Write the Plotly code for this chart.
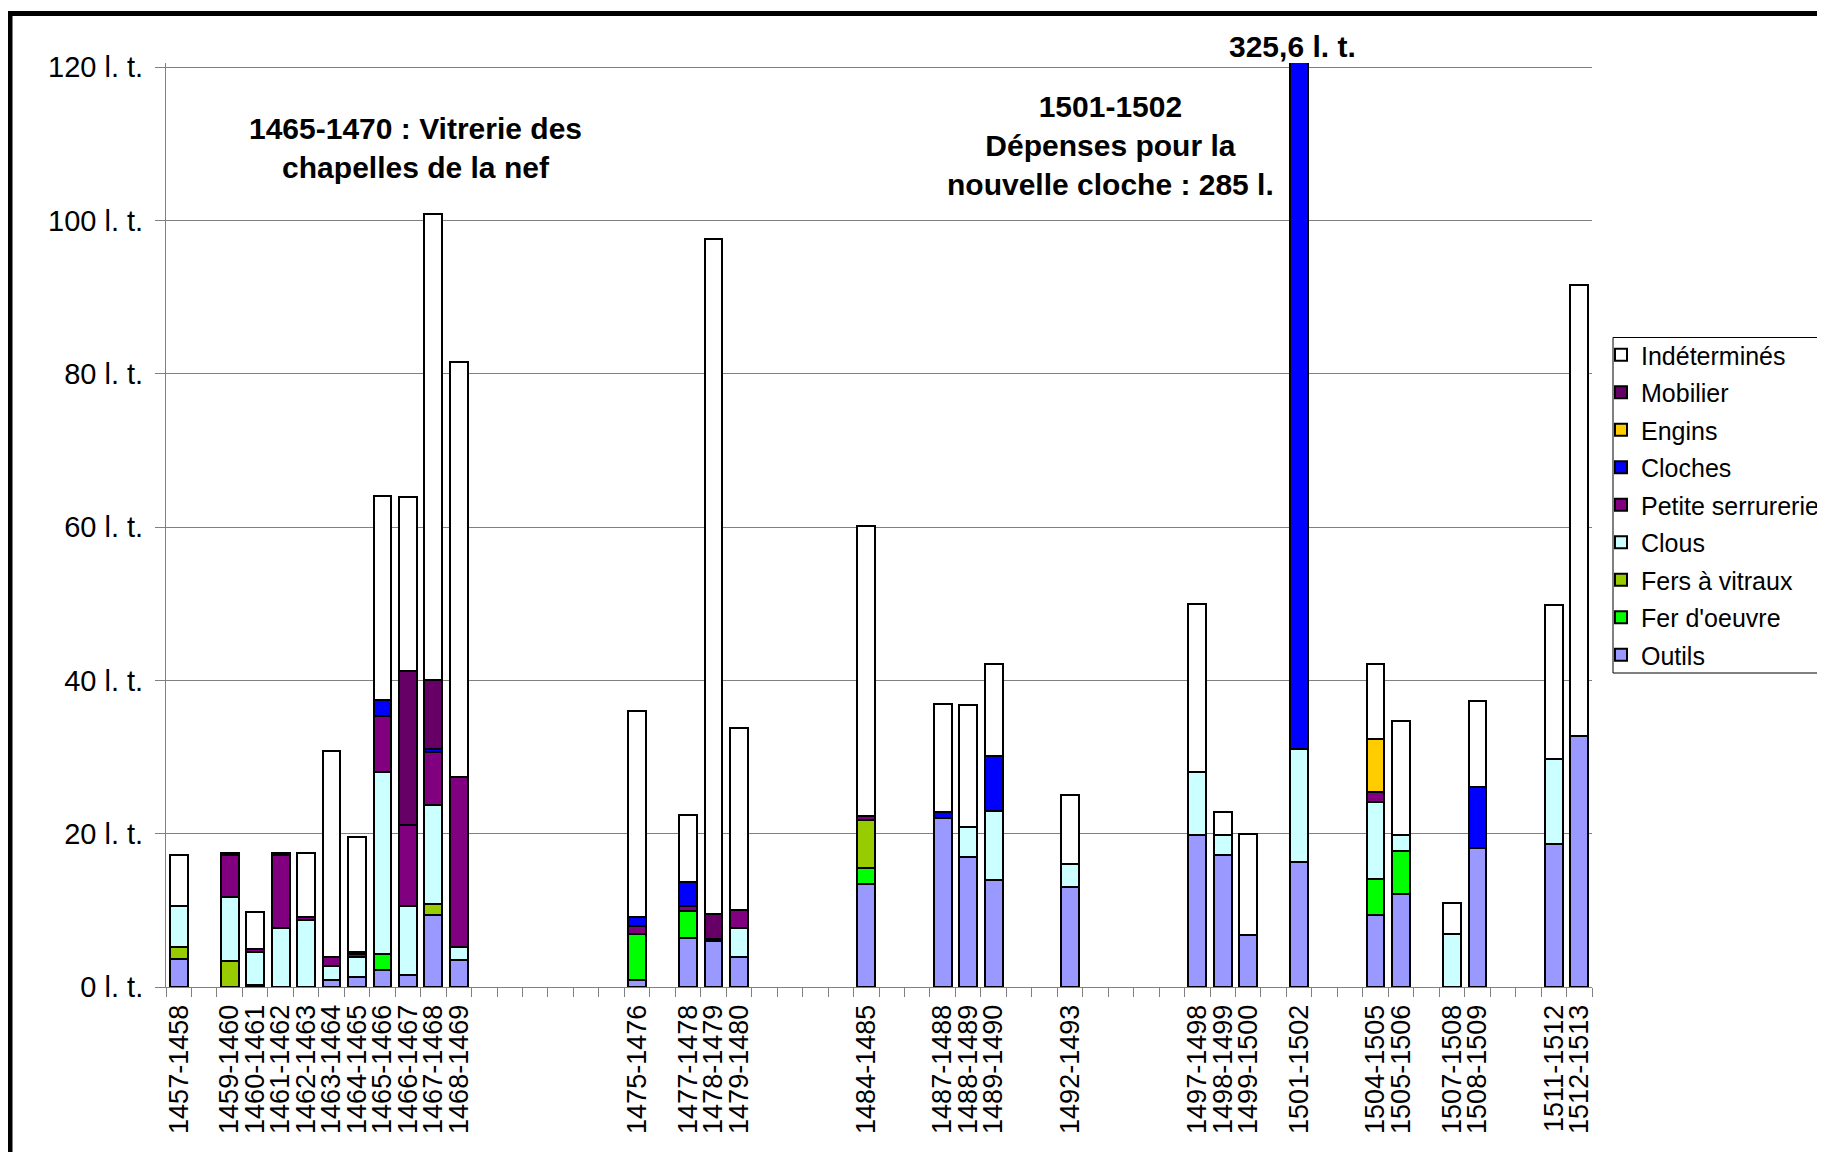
import plotly.graph_objects as go

# exercices comptables (seuls ceux qui ont des dépenses)
exercices = ["1457-1458", "1459-1460", "1460-1461", "1461-1462", "1462-1463",
             "1463-1464", "1464-1465", "1465-1466", "1466-1467", "1467-1468",
             "1468-1469", "1475-1476", "1477-1478", "1478-1479", "1479-1480",
             "1484-1485", "1487-1488", "1488-1489", "1489-1490", "1492-1493",
             "1497-1498", "1498-1499", "1499-1500", "1501-1502", "1504-1505",
             "1505-1506", "1507-1508", "1508-1509", "1511-1512", "1512-1513"]

# dépenses en livres tournois, par catégorie
outils = [3.6, 0, 0.25, 0, 0, 0.85, 1.35, 2.2, 1.6, 9.45,
          3.5, 0.85, 6.35, 5.95, 3.85, 13.5, 22.0, 17.0, 14.0, 13.1,
          19.85, 17.25, 6.75, 16.3, 9.35, 12.1, 0, 18.1, 18.7, 32.7]
fer_oeuvre = [0, 0, 0, 0, 0, 0, 0, 2.15, 0, 0,
              0, 6.1, 3.6, 0, 0, 2.0, 0, 0, 0, 0,
              0, 0, 0, 0, 4.8, 5.7, 0, 0, 0, 0]
fers_vitraux = [1.65, 3.45, 0, 0, 0, 0, 0, 0, 0, 1.4,
                0, 0, 0, 0, 0, 6.25, 0, 0, 0, 0,
                0, 0, 0, 0, 0, 0, 0, 0, 0, 0]
clous = [5.35, 8.25, 4.3, 7.7, 8.7, 1.85, 2.5, 23.65, 9.0, 12.85,
         1.7, 0, 0, 0, 3.85, 0, 0, 3.85, 8.95, 2.9,
         8.15, 2.6, 0, 14.8, 9.95, 2.0, 6.95, 0, 11.1, 0]
petite_serrurerie = [0, 5.5, 0.35, 9.5, 0.4, 1.25, 0.4, 7.4, 10.6, 6.9,
                     22.2, 1.05, 0.65, 0.35, 2.4, 0.5, 0, 0, 0, 0,
                     0, 0, 0, 0, 1.3, 0, 0, 0, 0, 0]
cloches = [0, 0, 0, 0, 0, 0, 0.35, 2.0, 0, 0.4,
           0, 1.1, 3.15, 0, 0, 0, 0.85, 0, 7.15, 0,
           0, 0, 0, 294.5, 0, 0, 0, 8.0, 0, 0]
engins = [0, 0, 0, 0, 0, 0, 0, 0, 0, 0,
          0, 0, 0, 0, 0, 0, 0, 0, 0, 0,
          0, 0, 0, 0, 7.0, 0, 0, 0, 0, 0]
mobilier = [0, 0.3, 0, 0.25, 0, 0, 0, 0, 20.0, 9.1,
            0, 0, 0, 3.25, 0, 0, 0, 0, 0, 0,
            0, 0, 0, 0, 0, 0, 0, 0, 0, 0]
indetermines = [6.6, 0, 4.9, 0, 8.4, 26.8, 15.0, 26.7, 22.7, 60.7,
                54.1, 26.9, 8.75, 88.0, 23.7, 37.95, 14.1, 15.9, 12.0, 9.1,
                22.0, 3.0, 13.2, 0, 9.7, 14.95, 3.95, 11.15, 20.1, 58.9]

# toutes les années de 1457-1458 à 1512-1513 sur l'axe
periodes = [f"{a}-{a + 1}" for a in range(1457, 1513)]
etiquettes = [p if p in exercices else "" for p in periodes]

series = [
    ("Outils", outils, "#9999FF"),
    ("Fer d'oeuvre", fer_oeuvre, "#00FF00"),
    ("Fers à vitraux", fers_vitraux, "#99CC00"),
    ("Clous", clous, "#CCFFFF"),
    ("Petite serrurerie", petite_serrurerie, "#800080"),
    ("Cloches", cloches, "#0000FF"),
    ("Engins", engins, "#FFCC00"),
    ("Mobilier", mobilier, "#660066"),
    ("Indéterminés", indetermines, "#FFFFFF"),
]

FONT = "Arial, Liberation Sans, sans-serif"
W, H = 1825, 1152
OFF = 8  # marge du body de la page html
L, T = 166 - OFF, 63 - OFF
R, B = W - (1592 - OFF), H - (987 - OFF)
pw, ph = W - L - R, H - T - B


def px(x):
    return (x - OFF - L) / pw


def py(y):
    return 1 - (y - OFF - T) / ph


fig = go.Figure()
for i, (nom, vals, couleur) in enumerate(series):
    fig.add_trace(go.Bar(
        x=exercices, y=[v if v else None for v in vals], name=nom,
        legendgroup=nom, legendrank=len(series) - i,
        marker=dict(color=couleur, line=dict(color="black", width=2)),
    ))

fig.update_layout(
    width=W, height=H,
    margin=dict(l=L, r=R, t=T, b=B, autoexpand=False),
    barmode="stack", bargap=0.3,
    plot_bgcolor="white", paper_bgcolor="white",
    font=dict(family=FONT, color="black"),
    legend=dict(x=px(1601), y=py(332), xanchor="left", yanchor="top",
                traceorder="grouped", tracegroupgap=2, itemwidth=30,
                font=dict(size=25, family=FONT),
                borderwidth=0, bgcolor="rgba(0,0,0,0)"),
)

fig.update_xaxes(
    type="category", categoryorder="array", categoryarray=periodes,
    range=[-0.5, len(periodes) - 0.5],
    tickmode="array", tickvals=periodes, ticktext=etiquettes,
    tickangle=-90, tickfont=dict(size=27), ticklabelstandoff=6,
    ticks="outside", ticklen=9, tickcolor="#808080", tickson="boundaries",
    showline=True, linecolor="#808080", linewidth=1,
    showgrid=False, zeroline=False,
)
fig.update_yaxes(
    range=[0, ph / 153.3 * 20], tickvals=[0, 20, 40, 60, 80, 100, 120],
    ticktext=[f"{v} l. t." for v in [0, 20, 40, 60, 80, 100, 120]],
    tickfont=dict(size=29), ticks="outside", ticklen=10, tickcolor="#808080",
    ticklabelstandoff=6,
    showline=True, linecolor="#808080", linewidth=1,
    showgrid=True, gridcolor="#808080", gridwidth=1, zeroline=False,
)

# cadre de la légende
fig.add_shape(type="rect", xref="paper", yref="paper", layer="below",
              x0=px(1613), y0=py(673), x1=px(1900), y1=py(337.5),
              line=dict(color="black", width=1), fillcolor="white")

# cadre noir
fig.add_shape(type="rect", xref="paper", yref="paper",
              x0=px(10), y0=py(1300), x1=px(2000), y1=py(13.5),
              line=dict(color="black", width=5), fillcolor="rgba(0,0,0,0)")

notes = [
    ("<b>1465-1470 : Vitrerie des<br>chapelles de la nef</b>", 415, 148),
    ("<b>1501-1502<br>Dépenses pour la<br>nouvelle cloche : 285 l.</b>", 1110, 145.5),
    ("<b>325,6 l. t.</b>", 1292, 46.5),
]
for texte, x, y in notes:
    fig.add_annotation(text=texte, xref="paper", yref="paper", x=px(x), y=py(y),
                       xanchor="center", yanchor="middle", showarrow=False,
                       font=dict(size=30, family=FONT, color="black"))

fig.write_html("out.html")
